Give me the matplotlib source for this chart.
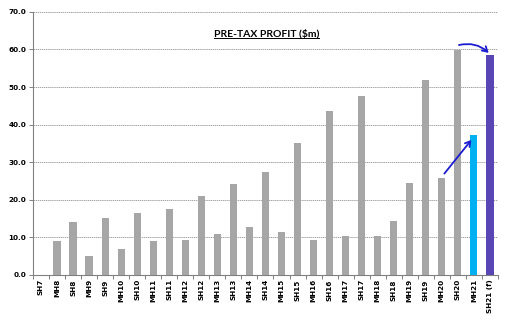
import matplotlib
matplotlib.use("Agg")
import matplotlib.pyplot as plt
import numpy as np
from matplotlib.patches import FancyArrowPatch
from matplotlib.lines import Line2D

periods = ["SH7", "MH8", "SH8", "MH9", "SH9", "MH10", "SH10", "MH11", "SH11", "MH12",
           "SH12", "MH13", "SH13", "MH14", "SH14", "MH15", "SH15", "MH16", "SH16", "MH17",
           "SH17", "MH18", "SH18", "MH19", "SH19", "MH20", "SH20", "MH21", "SH21 (f)"]
profit = [0.0, 9.0, 14.1, 5.0, 15.2, 6.9, 16.5, 9.0, 17.6, 9.3,
          21.0, 10.9, 24.3, 12.8, 27.4, 11.4, 35.0, 9.3, 43.6, 10.4,
          47.6, 10.4, 14.4, 24.5, 51.9, 25.8, 59.9, 37.3, 58.6]
y_ticks = [0, 10, 20, 30, 40, 50, 60, 70]

GREY = "#a6a6a6"
colors = [GREY] * len(periods)
colors[-2] = "#00b0f0"
colors[-1] = "#5a45b5"

fig = plt.figure(figsize=(5.05, 3.22), dpi=100)
ax = fig.add_axes([0.0653, 0.146, 0.9207, 0.817])

x = np.arange(len(periods))
ax.bar(x, profit, width=0.45, color=colors, zorder=3)

ax.set_xlim(-0.5, len(periods) - 0.5)
ax.set_ylim(0, 70)
ax.set_yticks(y_ticks)
ax.set_yticklabels([f"{v:.1f}" for v in y_ticks], fontsize=5.2, fontweight="bold")
ax.yaxis.grid(True, linestyle=(0, (2, 1)), color="#808080", linewidth=0.5, zorder=0)

ax.set_xticks(x)
ax.set_xticklabels(periods, rotation=90, fontsize=5.2, fontweight="bold")
ax.tick_params(axis="x", length=0, pad=3)
ax.set_xticks(np.arange(len(periods) + 1) - 0.5, minor=True)
ax.tick_params(axis="x", which="minor", length=3, color="#808080", width=0.7)
ax.tick_params(axis="y", length=3, color="#808080", width=0.7, pad=2)

for s in ("top", "right"):
    ax.spines[s].set_visible(False)
for s in ("left", "bottom"):
    ax.spines[s].set_color("#808080")
    ax.spines[s].set_linewidth(0.8)

# Underlined title inside the plot area
title = ax.text(0.502, 0.905, "PRE-TAX PROFIT ($m)", transform=ax.transAxes,
                ha="center", va="baseline", fontsize=7.5, fontweight="bold",
                family=["Lato", "DejaVu Sans"])
fig.canvas.draw()
bb = title.get_window_extent(renderer=fig.canvas.get_renderer())
inv = fig.transFigure.inverted()
(x0, y0), (x1, _) = inv.transform([(bb.x0, bb.y0), (bb.x1, bb.y0)])
fig.add_artist(Line2D([x0, x1], [y0 + 0.002, y0 + 0.002], transform=fig.transFigure,
                      color="black", linewidth=0.7))

# Growth arrows
arrow_col = "#1c1cd0"
i_mh20, i_sh20, i_mh21, i_sh21 = 25, 26, 27, 28
a1 = FancyArrowPatch((i_mh20 + 0.05, profit[i_mh20] + 0.6),
                     (i_mh21 - 0.05, profit[i_mh21] - 0.8),
                     connectionstyle="arc3,rad=0.0", arrowstyle="->,head_length=0.5,head_width=0.3",
                     mutation_scale=7, color=arrow_col, linewidth=1.3, zorder=5)
a2 = FancyArrowPatch((i_sh20 - 0.1, profit[i_sh20] + 1.1),
                     (i_sh21 + 0.05, profit[i_sh21]),
                     connectionstyle="arc3,rad=-0.3", arrowstyle="->,head_length=0.5,head_width=0.3",
                     mutation_scale=7, color=arrow_col, linewidth=1.3, zorder=5)
ax.add_patch(a1)
ax.add_patch(a2)

fig.savefig("out.png", dpi=100)
